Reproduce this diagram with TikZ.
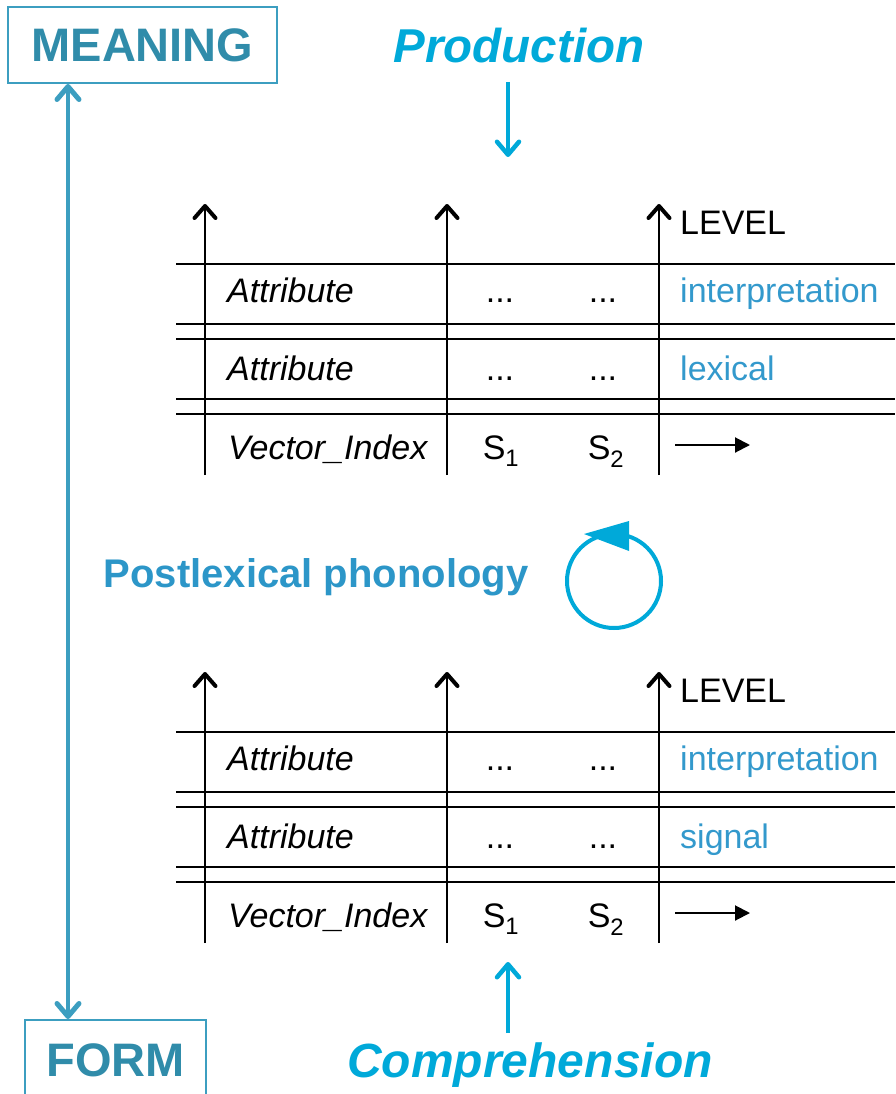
\documentclass[tikz,border=0pt]{standalone}
\usepackage{fontspec}
\setmainfont{Liberation Sans}
\usetikzlibrary{arrows.meta}
\definecolor{tealtext}{RGB}{48,140,170}
\definecolor{tealline}{RGB}{60,158,192}
\definecolor{cyanflow}{RGB}{0,169,217}
\definecolor{levelblue}{RGB}{51,153,204}
\definecolor{postlex}{RGB}{44,150,200}
\newcommand{\fsz}[1]{\fontsize{#1}{#1}\selectfont}

\begin{document}
\begin{tikzpicture}[x=1pt, y=-1pt,
  rule/.style={line width=1.4pt},
  col/.style={line width=1.5pt, -{Straight Barb[length=12pt,width=21pt,line width'=4pt,round]}},
  flow/.style={color=cyanflow, line width=3.5pt, -{Straight Barb[length=13pt,width=22pt,line width'=4.5pt,round]}},
  attr/.style={anchor=base west, font=\fsz{34}\itshape, inner sep=0pt},
  cell/.style={anchor=base, font=\fsz{34}, inner sep=0pt},
  lvl/.style={anchor=base west, font=\fsz{34}, inner sep=0pt, color=levelblue},
  pole/.style={draw=tealline, line width=2pt, text=tealtext, font=\fsz{47}\bfseries}]
  \useasboundingbox (0,0) rectangle (895,1094);

  \node[pole, minimum width=269pt, minimum height=76pt] (meaning) at (142.5,45) {MEANING};
  \node[pole, minimum width=181pt, minimum height=80pt] (form) at (115.5,1060) {FORM};
  \coordinate (axis) at (68,500);
  \draw[color=tealline, line width=4pt,
    {Straight Barb[length=13pt,width=22pt,line width'=5pt,round]}-{Straight Barb[length=13pt,width=22pt,line width'=5pt,round]}]
    (axis |- meaning.south) -- (axis |- form.north);

  \node[anchor=base, font=\fsz{47.5}\bfseries\itshape, color=cyanflow] (production) at (519,63) {Production};
  \coordinate (prodtop) at (508,82);
  \coordinate (prodtip) at (508,157);
  \draw[flow] (prodtop) -- (prodtip);

  % upper table
  \draw[rule] (176,264) -- (895,264);
  \draw[rule] (176,324) -- (895,324);
  \draw[rule] (176,339) -- (895,339);
  \draw[rule] (176,399) -- (895,399);
  \draw[rule] (176,414) -- (895,414);
  \coordinate (ua0) at (205,475); \coordinate (ua1) at (205,204);
  \coordinate (ub0) at (447,475); \coordinate (ub1) at (447,204);
  \coordinate (uc0) at (659,475); \coordinate (uc1) at (659,204);
  \draw[col] (ua0) -- (ua1);
  \draw[col] (ub0) -- (ub1);
  \draw[col] (uc0) -- (uc1);
  \node[anchor=base west, font=\fsz{34}, inner sep=0pt] (ulevel) at (680,234) {LEVEL};
  \node[attr] (uattr1) at (227,302) {Attribute};
  \node[cell] (udots11) at (500,302) {...};
  \node[cell] (udots12) at (603,302) {...};
  \node[lvl] (uinterp) at (680,302) {interpretation};
  \node[attr] (uattr2) at (227,380) {Attribute};
  \node[cell] (udots21) at (500,380) {...};
  \node[cell] (udots22) at (603,380) {...};
  \node[lvl] (ulexical) at (680,380) {lexical};
  \node[attr] (uindex) at (228,459) {Vector\_Index};
  \node[cell] (us1) at (501,459) {S\textsubscript{1}};
  \node[cell] (us2) at (606,459) {S\textsubscript{2}};
  \coordinate (ustep0) at (675,445); \coordinate (ustep1) at (750,445);
  \draw[line width=2pt, -{Triangle[length=15pt,width=15pt]}] (ustep0) -- (ustep1);

  \node[anchor=base, font=\fsz{40}\bfseries, color=postlex] (postlexical) at (316,587) {Postlexical phonology};
  \draw[color=cyanflow, line width=4pt] (614,581) circle (47);
  \fill[color=cyanflow] (584,534) -- (629,521) -- (629,551) -- cycle;

  % lower table
  \draw[rule] (176,732) -- (895,732);
  \draw[rule] (176,792) -- (895,792);
  \draw[rule] (176,807) -- (895,807);
  \draw[rule] (176,867) -- (895,867);
  \draw[rule] (176,882) -- (895,882);
  \coordinate (la0) at (205,943); \coordinate (la1) at (205,672);
  \coordinate (lb0) at (447,943); \coordinate (lb1) at (447,672);
  \coordinate (lc0) at (659,943); \coordinate (lc1) at (659,672);
  \draw[col] (la0) -- (la1);
  \draw[col] (lb0) -- (lb1);
  \draw[col] (lc0) -- (lc1);
  \node[anchor=base west, font=\fsz{34}, inner sep=0pt] (llevel) at (680,702) {LEVEL};
  \node[attr] (lattr1) at (227,770) {Attribute};
  \node[cell] (ldots11) at (500,770) {...};
  \node[cell] (ldots12) at (603,770) {...};
  \node[lvl] (linterp) at (680,770) {interpretation};
  \node[attr] (lattr2) at (227,848) {Attribute};
  \node[cell] (ldots21) at (500,848) {...};
  \node[cell] (ldots22) at (603,848) {...};
  \node[lvl] (lsignal) at (680,848) {signal};
  \node[attr] (lindex) at (228,927) {Vector\_Index};
  \node[cell] (ls1) at (501,927) {S\textsubscript{1}};
  \node[cell] (ls2) at (606,927) {S\textsubscript{2}};
  \coordinate (lstep0) at (675,913); \coordinate (lstep1) at (750,913);
  \draw[line width=2pt, -{Triangle[length=15pt,width=15pt]}] (lstep0) -- (lstep1);

  \node[anchor=base, font=\fsz{48}\bfseries\itshape, color=cyanflow] (comprehension) at (530,1077) {Comprehension};
  \coordinate (comptop) at (508,962);
  \coordinate (compbot) at (508,1033);
  \draw[flow] (compbot) -- (comptop);
\end{tikzpicture}
\end{document}
